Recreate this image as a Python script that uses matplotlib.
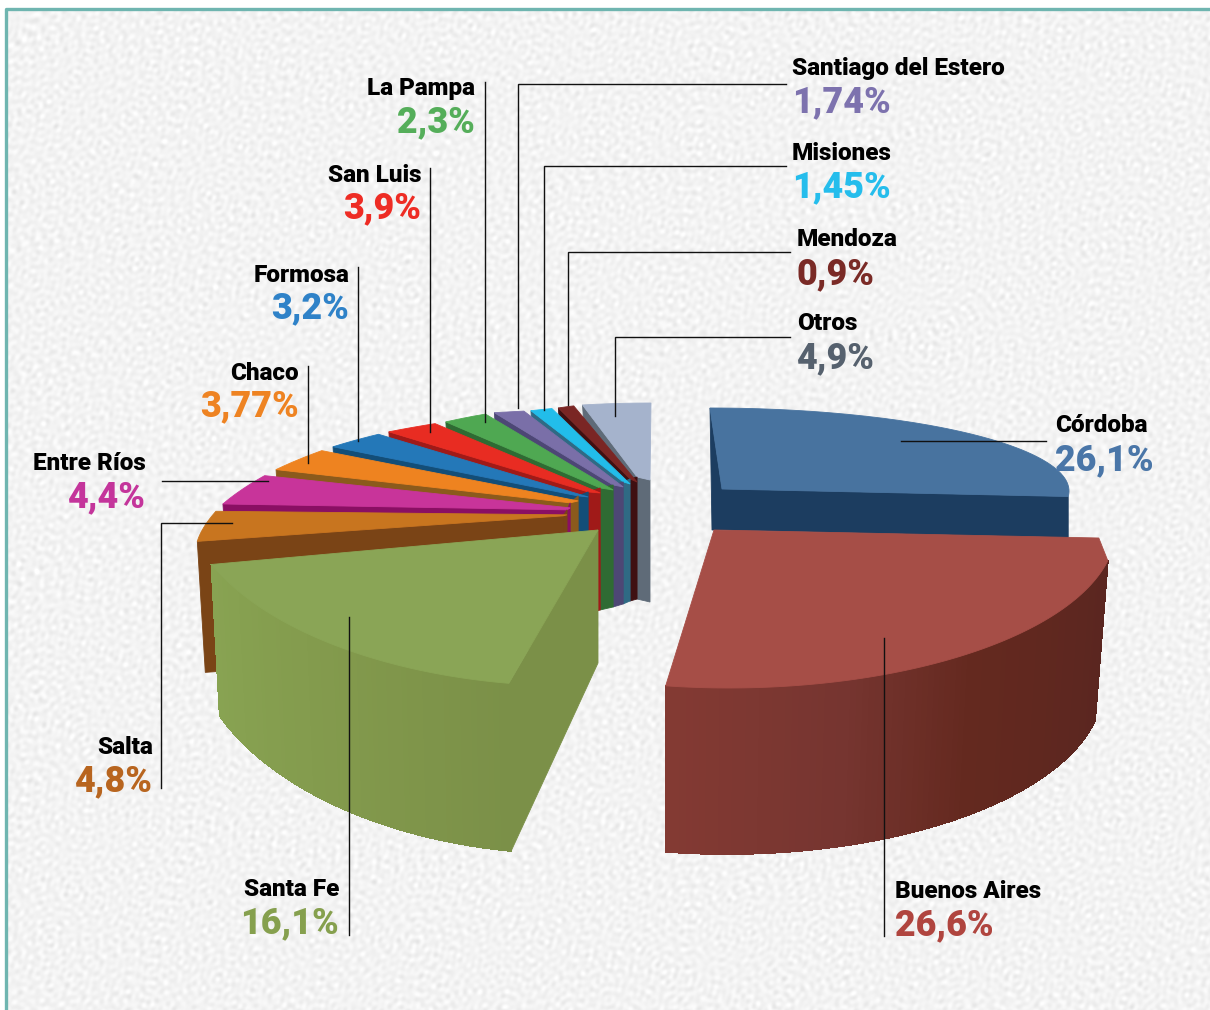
import numpy as np
import matplotlib
matplotlib.use("Agg")
import matplotlib.pyplot as plt

provincias = ["Córdoba", "Buenos Aires", "Santa Fe", "Salta", "Entre Ríos", "Chaco", "Formosa",
              "San Luis", "La Pampa", "Santiago del Estero", "Misiones", "Mendoza", "Otros"]
valores = [26.1, 26.6, 16.1, 4.8, 4.4, 3.77, 3.2, 3.9, 2.3, 1.74, 1.45, 0.9, 4.9]
etiquetas = ["26,1%", "26,6%", "16,1%", "4,8%", "4,4%", "3,77%", "3,2%", "3,9%", "2,3%", "1,74%", "1,45%", "0,9%", "4,9%"]

# colores: cara superior, costado, color del texto
cara = ["#48739f", "#a64e47", "#8aa556", "#c8751f", "#c8349a", "#ee8320", "#2478b8",
        "#e82c22", "#4fa852", "#7a6fa8", "#22bdea", "#7a2624", "#a5b3cc"]
lado = ["#1c3d60", "#6e302a", "#7b9048", "#7a4416", "#8a0f63", "#8b5a1c", "#134e78",
        "#a01a18", "#2f6b33", "#4d4775", "#2f6a84", "#3f1012", "#5f6b78"]
texto = ["#4a76a8", "#b0453f", "#86a04e", "#b8651f", "#c4359b", "#ee8322", "#2f82c8",
         "#ee2c24", "#55ae5a", "#7d72ae", "#25bdec", "#7a2a26", "#56616e"]

# posiciones de los rotulos: x, y nombre, y valor, alineacion
rotulos = [(1055, 426, 460, "left"), (895, 892, 925, "left"), (339, 890, 923, "right"),
           (153, 748, 781, "right"), (146, 464, 497, "right"), (299, 373, 406, "right"),
           (349, 275, 308, "right"), (421, 175, 208, "right"), (475, 89, 122, "right"),
           (792, 69, 102, "left"), (792, 153, 187, "left"), (797, 240, 274, "left"),
           (797, 324, 358, "left")]

lineas = [[(1046, 441), (901, 441)], [(884, 638), (884, 936)], [(349, 617), (349, 935)],
          [(232, 523), (161, 523), (161, 788)], [(162, 481), (268, 481)],
          [(308, 366), (308, 463)], [(358, 267), (358, 441)], [(430, 168), (430, 432)],
          [(485, 82), (485, 422)], [(786, 84), (518, 84), (518, 408)],
          [(786, 166), (544, 166), (544, 410)], [(790, 252), (568, 252), (568, 405)],
          [(790, 337), (615, 337), (615, 416)]]

plt.rcParams["font.family"] = ["Roboto", "DejaVu Sans"]
fig = plt.figure(figsize=(12.1, 10.1), dpi=100, facecolor="white")
ax = fig.add_axes([0, 0, 1, 1])
ax.axis("off")

# textura del fondo
yy, xx = np.mgrid[0:1010, 0:1210]
tex = np.zeros(xx.shape)
for k in range(60):
    giro = k * 2.39996
    paso = 0.4 + 0.6 * ((k * 0.618) % 1)
    tex += np.sin(paso * (xx * np.cos(giro) + yy * np.sin(giro)) + k * 1.7)
tex = tex / tex.std()
ax.imshow(243 + 4 * tex, cmap="gray", vmin=0, vmax=255, extent=(6, 1210, 1010, 9), aspect="auto", zorder=0)
ax.set_xlim(0, 1210)
ax.set_ylim(1010, 0)
ax.plot([6, 6, 1210], [1010, 9, 9], color="#6fb5b0", lw=2.4, zorder=1)

total = sum(valores)
cortes = np.concatenate([[0], np.cumsum(valores)]) * 360 / total


def borde(ex, ey, rx, ry, ang):
    a = np.radians(ang)
    return ex + rx * np.sin(a), ey - ry * np.cos(a)


def poly(xs, ys, color, z=2, aa=True):
    ax.fill(xs, ys, facecolor=color, edgecolor=color, lw=0.6, zorder=z, antialiased=aa)


def mezcla(colores, pos, t):
    rgb = np.array([matplotlib.colors.to_rgb(c) for c in colores])
    return tuple(np.interp(t, pos, rgb[:, j]) for j in range(3))


# Cordoba
ang = np.linspace(cortes[0], cortes[1], 60)
x, y = borde(710, 491, 359, 83, ang)
ax_c, ay_c = 722, 489
prof = 41
poly([x[0], ax_c, ax_c, 712], [y[0], ay_c, ay_c + prof, ay_c + prof], lado[0], 2)
poly([ax_c, x[-1], x[-1], ax_c], [ay_c, y[-1], y[-1] + prof, ay_c + prof], lado[0], 2)
poly(np.r_[ax_c, x], np.r_[ay_c, y], cara[0], 3)

# Buenos Aires: el borde derecho va achaflanado
ang = np.linspace(cortes[1] + 8, cortes[2], 90)
x, y = borde(729, 528, 387, 160, ang)
xb, yb = borde(727, 686, 376, 168, ang)
for i in range(len(ang) - 1):
    t = i / (len(ang) - 2)
    col = mezcla(["#5a2620", "#64291f", "#763530", "#833a33"], [0, 0.45, 0.7, 1], t)
    poly([x[i], x[i + 1], xb[i + 1], xb[i]], [y[i], y[i + 1], yb[i + 1], yb[i]], col, 4, aa=False)
poly(np.r_[714, x[0] - 9, x], np.r_[530, 538, y], cara[1], 5)

# cuñas chicas, de atras hacia adelante
alfa_k = [0, 17.7, 20.9, 26.2, 32.4, 40.7, 54.8, 66.3, 79.9, 95.8, 113.1, 130]
fi_k = [0, 8.7, 11.8, 15.4, 20.2, 26.9, 35.3, 44.5, 55.7, 70.5, 86, 95]
psi_k = [0, 12.6, 20, 25, 28, 39.6, 49.4, 62, 78.9, 103, 132.5, 150]
vx_k = [650, 637, 630, 623, 613, 600, 588, 578, 570, 567, 563, 560]
vy_k = [480, 477, 479, 482, 485, 488, 492, 496, 503, 510, 516, 520]
banda = 5


def borde_atras(alfa):
    fi = np.radians(np.interp(alfa, alfa_k, fi_k))
    psi = np.radians(np.interp(alfa, alfa_k, psi_k))
    return 651 - 455 * np.sin(fi), 486 - 83 * np.cos(psi)


for i in range(12, 2, -1):
    a_der = max(360 - cortes[i + 1], 0)
    a_izq = 360 - cortes[i]
    hueco = max(0.18 * (a_izq - a_der), 1.2) if i < 12 else 0
    prof = 131 if i == 3 else 122
    alfas = np.linspace(a_der + hueco, a_izq, 20)
    x, y = borde_atras(alfas)
    vx = np.interp([a_der, a_izq], alfa_k, vx_k)
    vy = np.interp([a_der, a_izq], alfa_k, vy_k)
    baja = banda if i < 12 else 0
    # costado y pared
    poly([x[-1], vx[1], vx[1], x[-1] + 8], [y[-1], vy[1], vy[1] + prof, y[-1] + prof], lado[i], 6)
    poly([vx[1], vx[0], vx[0], vx[1]], [vy[1], vy[0], vy[0] + prof, vy[1] + prof], lado[i], 6)
    poly(np.r_[x, vx[1], vx[0]], np.r_[y, vy[1], vy[0] + baja], cara[i], 6)

# Santa Fe
ang = np.linspace(cortes[2], cortes[3], 70)
x, y = borde(573, 488, 392, 198, ang)
xb, yb = borde(574, 629, 384, 225, ang)
poly([598, x[0], xb[0], 598], [530, y[0], yb[0], 663], lado[2], 7)
for i in range(len(ang) - 1):
    t = i / (len(ang) - 2)
    col = mezcla([lado[2], "#82994c", "#88a352"], [0, 0.45, 1], t)
    poly([x[i], x[i + 1], xb[i + 1], xb[i]], [y[i], y[i + 1], yb[i + 1], yb[i]], col, 7, aa=False)
poly(np.r_[598, x], np.r_[530, y], cara[2], 8)

# lineas y rotulos
for pts in lineas:
    px, py = zip(*pts)
    ax.plot(px, py, color="#111111", lw=1.0, zorder=9, solid_joinstyle="miter")

for nombre, etq, col, (tx, y1, y2, al) in zip(provincias, etiquetas, texto, rotulos):
    ax.text(tx, y1, nombre, fontsize=17.5, fontweight="black", color="black", ha=al, va="center", zorder=10)
    ax.text(tx, y2, etq, fontsize=25.8, fontweight="black", color=col, ha=al, va="center", zorder=10)

fig.savefig("out.png", dpi=100)
